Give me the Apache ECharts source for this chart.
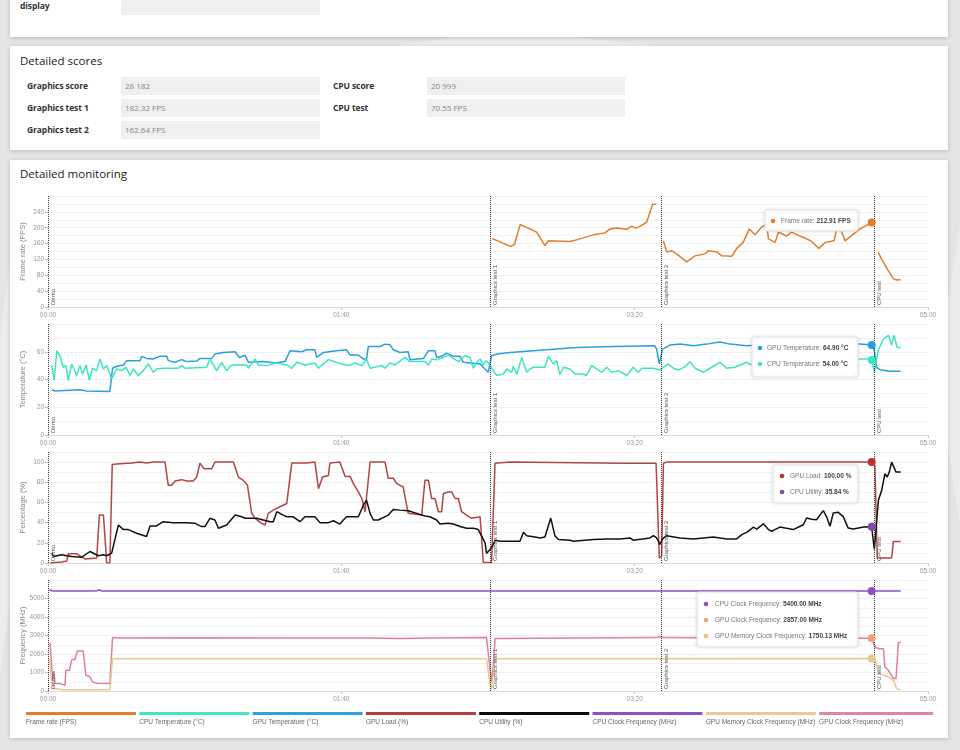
<!DOCTYPE html>
<html>
<head>
<meta charset="utf-8">
<script src="https://cdn.jsdelivr.net/npm/echarts@6/dist/echarts.min.js"></script>
<style>
    body { margin:0; width:960px; height:750px; overflow:hidden; position:relative;
           background:#e4e4e4; font-family:"Open Sans", sans-serif; }
    .poly { position:absolute; background:#ececec; }
    .card { position:absolute; left:10px; width:938px; background:#fff;
            box-shadow:0 1px 4px rgba(0,0,0,.18); }
    .lbl { position:absolute; font-weight:bold; font-size:8.5px; color:#333; letter-spacing:-0.1px; }
    .box { position:absolute; height:18px; background:#efefef; box-sizing:border-box;
           padding-left:4px; font-size:8px; color:#888; line-height:18px; }
    .ttl { position:absolute; left:10px; font-size:11.5px; color:#222; }
    #mon { position:absolute; left:0; top:0; width:938px; height:578px; }
</style>
</head>
<body>
<div class="poly" style="left:300px;top:30px;width:500px;height:30px;clip-path:polygon(0 100%,40% 0,100% 100%);"></div>
<div class="poly" style="left:948px;top:0;width:12px;height:750px;clip-path:polygon(0 40%,100% 30%,100% 70%,0 60%);"></div>
<div class="poly" style="left:0;top:0;width:10px;height:750px;clip-path:polygon(0 45%,100% 35%,100% 80%,0 90%);"></div>

<div class="card" style="top:-10px;height:47px;">
    <div class="lbl" style="left:10px;top:10px;">display</div>
    <div class="box" style="left:111px;top:0;width:199px;height:25px;"></div>
</div>

<div class="card" style="top:46px;height:104px;">
    <div class="ttl" style="top:7px;">Detailed scores</div>
    <div class="lbl" style="left:17px;top:34px;">Graphics score</div>
    <div class="box" style="left:111px;top:31px;width:199px;">28 182</div>
    <div class="lbl" style="left:17px;top:56px;">Graphics test 1</div>
    <div class="box" style="left:111px;top:53px;width:199px;">182.32 FPS</div>
    <div class="lbl" style="left:17px;top:78px;">Graphics test 2</div>
    <div class="box" style="left:111px;top:75px;width:199px;">162.64 FPS</div>
    <div class="lbl" style="left:323px;top:34px;">CPU score</div>
    <div class="box" style="left:417px;top:31px;width:198px;">20 999</div>
    <div class="lbl" style="left:323px;top:56px;">CPU test</div>
    <div class="box" style="left:417px;top:53px;width:198px;">70.55 FPS</div>
</div>

<div class="card" style="top:160px;height:578px;">
    <div class="ttl" style="top:6px;">Detailed monitoring</div>
    <div id="mon"></div>
</div>

<script>
    // test sections (seconds)
    var markerNames = ['Demo', 'Graphics test 1', 'Graphics test 2', 'CPU test'];
    var markerTimes = [0, 150.7, 209, 281.8];

    // hovered moment shown in the tooltips
    var hoverTime = 280.8;

    // [seconds, value]
    var fpsData = [
        [151.5,172],[154,165],[157.5,153],[159,157],[161,208],[163.7,199],[166.6,189],[169.4,155],[170.6,167],
        [178,165],[180.5,170],[185.9,182],[189.9,187],[191.6,197],[193.9,199],[197.3,196],[199,204],[200.3,199],
        [202,204],[204.1,214],[206.1,259],[207.2,259],
        [208.5,'-'],
        [209.8,167],[210.9,139],[212.6,142],[214.3,134],[217.7,114],[220.6,129],[224,134],[225.1,142],[228,139],
        [229.7,129],[233.1,128],[234.8,148],[237,163],[239.1,197],[241,182],[243.3,202],[245,208],[245.6,172],
        [247.9,163],[249,189],[251.8,179],[253.5,189],[256,180],[258.6,172],[260,167],[262.8,148],[265,163],
        [268,167],[269.4,214],[271.7,167],[276.8,197],[280.8,212.91],
        [282,'-'],
        [283,138],[284.2,121],[286.5,91],[288.2,71],[289.3,68],[290.7,69]
    ];

    var gpuTemp = [
        [1.3,32.6],[2.4,31.7],[10.9,32.6],[13.2,31.7],[21.1,31.4],[22,48.1],[23.4,49.5],[25.7,50.5],[26.8,53.6],
        [31.4,53.6],[31.9,56.7],[33.6,55.2],[35.9,54.8],[38,56.7],[40.5,56.7],[41,53.6],[43.3,52.4],[45.6,54.3],
        [47.3,52.9],[50.7,53.3],[51.8,55.2],[55.8,55.2],[56.9,58.3],[59.8,59.5],[63.8,60],[65.2,55.9],[67.2,57.6],
        [68.3,52.4],[73.4,52.9],[77.4,51.9],[80.8,52.9],[82.5,60.7],[86.5,60],[88.2,61.4],[91,61.4],[91.6,55.9],
        [93.9,59.5],[98.4,60.7],[101.8,61.4],[103,57.6],[105.8,57.6],[107.5,54.8],[108.6,54.8],[109.2,63.8],
        [113.2,63.8],[114.9,65.5],[116.6,65],[117.7,61.4],[120,59.5],[122.8,60],[123.4,54.3],[128,55.2],[129.7,60.7],
        [131.9,60.7],[132.5,55.9],[134.2,56.7],[135.9,59],[138.2,56.7],[140.5,56.7],[141.6,52.4],[147.3,51.2],
        [150.1,45.2],[151.2,57.1],[153,58.3],[157.5,59.5],[170,61.4],[180.2,63.1],[192.7,63.8],[206.9,64.3],
        [207.5,61.9],[208.4,51.2],[209.5,61.9],[212,64.8],[215.5,65.5],[220,64.3],[224.5,65.5],[229.1,67.1],
        [232.5,65.5],[238.2,64.3],[244,65],[250,65.5],[258,65],[266,65.5],[276.8,65.5],[280.8,64.9],[281.7,60.7],
        [282.5,48.8],[283.6,47.1],[287,46],[290.7,46]
    ];

    var cpuTemp = [
        [1.3,50],[2.1,39.3],[3,60.7],[4.1,57.1],[5.2,48.8],[6.1,50],[6.9,39.3],[8.1,51.2],[9.8,42.9],[10.9,50],
        [11.8,44],[13,50.5],[14.1,39.3],[15.2,48.1],[16.6,46.4],[17.7,54.8],[18.9,47.6],[20,50],[21.7,40.5],
        [23.4,47.6],[25.1,46.4],[26.6,48.8],[28,42.9],[29.1,47.6],[30.8,42.9],[32.5,46.4],[34.2,51.2],[35.9,45.2],
        [37,47.6],[39.1,48.1],[44.4,48.1],[45.6,50],[46.7,48.1],[54.1,48.8],[55.2,54.8],[57.5,46.4],[59.2,52.4],
        [60.9,46.4],[62.6,50.5],[67.7,50.5],[68.3,48.1],[70.6,54.8],[71.7,50.5],[74.5,50],[78,51.9],[81.4,50.5],
        [83.1,48.1],[84.8,52.4],[87.6,50.5],[91,51.9],[92.2,48.1],[95.6,54.3],[99,51.9],[102.4,50],[104.7,51.9],
        [107,50],[108.6,54.8],[109.8,48.1],[113.8,50],[114.9,48.1],[116.6,51.9],[118.3,50.5],[121.7,55.9],
        [123.4,52.9],[128.5,52.9],[129.7,50.5],[130.8,54.8],[132.5,54.3],[134.8,55.9],[136.5,57.6],[139.9,52.9],
        [142.2,57.1],[143.9,55.9],[145,48.1],[146.1,52.4],[147.3,54.8],[148.4,50.5],[149.5,53.6],[150.7,50],
        [153,42.9],[155.2,44],[156.4,47.6],[158.1,45.2],[158.6,49.5],[159.8,43.6],[161.5,55.9],[163.2,45.2],
        [164.3,47.6],[165.5,48.8],[169.4,48.8],[170.6,56.7],[172.3,51.2],[173.4,53.6],[174.5,43.6],[175.7,48.8],
        [177.9,47.6],[179.7,44],[182.5,44],[183.6,42.9],[185.3,50],[187,47.6],[188.8,45.2],[190.5,48.8],
        [192.2,45.2],[194.4,46.4],[197.3,42.9],[199.5,48.8],[201.2,45.2],[202.4,48.1],[206.4,48.1],[208.6,46.9],
        [211.5,51.2],[213.2,48.1],[214.9,46.9],[217.2,49.3],[218.9,52.9],[220.6,48.1],[223.4,45.2],[225.7,48.1],
        [229.1,52.4],[231.4,48.1],[234.2,48.8],[238.2,52.4],[239.3,51],[242,50.5],[246,52],[250,51],[254,53],
        [258,52],[262,54],[266,53],[270,55],[276.8,54.8],[279.6,54.8],[280.8,54],[281.7,45.2],[283,60.7],
        [284.8,69],[286.5,71.9],[287.6,64.8],[288.4,71.9],[289.5,63.1],[290.7,63.1]
    ];

    var gpuLoad = [
        [0.7,0],[4.7,1],[6.4,2],[6.9,9.1],[9.8,9.1],[10.3,7.2],[12.6,4],[16.6,5],[17.5,47.5],[18.9,47.5],[20,0],
        [21.1,0],[21.9,97.6],[23.4,98],[28.5,99],[31.4,100],[33.6,99],[35.9,100],[39.9,100],[41,77],[42.2,77],
        [43.3,81.3],[45.6,82.6],[47.3,81.3],[49.5,81.3],[50.7,85.2],[51.8,99],[53.2,93.4],[55.8,93.4],[56.9,100],
        [63.2,100],[64.9,85.2],[66.6,81.9],[68,77],[69.4,49.8],[70.6,44.3],[72.8,39.3],[74,37.7],[75.1,49.2],
        [76.8,52.4],[79.1,55.7],[81.4,59],[83.1,99],[88.2,99],[91,100],[92.2,73.7],[93.6,85.2],[95.6,86.8],
        [96.1,99],[99.5,100],[101.3,85.8],[103,85.8],[104.1,78.6],[105.8,70.4],[107,63.9],[108.1,50.8],[108.6,50.8],
        [109.8,100],[114.9,100],[116,84],[117.7,84],[118.9,78.6],[121.1,75.3],[121.7,73.7],[122.8,49.2],[127.4,47.5],
        [128.5,81.9],[129.7,81.9],[130.8,63.9],[131.9,63.9],[133.1,50.8],[134.2,50.8],[134.8,68.8],[136.5,70.4],
        [137.6,70.4],[138.8,63.9],[139.9,63.9],[141,50.8],[142.7,47.5],[144.4,44.3],[147.3,45.8],[147.8,45.8],
        [148.4,0.6],[151.2,0.6],[152.4,98.9],[157.5,100],[196.1,98.9],[207.3,98.9],[208.4,5],[209.2,6.5],
        [209.8,98.9],[210.9,100],[280.8,100],[281.9,96.7],[282.7,5],[287.6,5],[288.2,21.4],[290.7,21.4]
    ];

    var cpuUtil = [
        [1.3,9.8],[1.8,6.5],[4.7,8.2],[6.4,7.2],[8.1,6.5],[11.5,5.8],[14.3,11.4],[17.2,7.2],[18.9,8.2],[20,7.2],
        [21.7,9.8],[22.3,9.8],[24,37.7],[25.7,33.1],[27.4,33.1],[30.2,29.5],[33.6,26.2],[34.8,36.7],[37,36.7],
        [39.3,40.9],[42.7,40],[47.3,40],[50.1,39.3],[52.4,36.1],[53.5,36.1],[55.2,44.3],[56.9,42.6],[58.1,34.4],
        [60.9,37.7],[63.8,47.5],[66,45.8],[67.2,44.3],[71.1,44.3],[73.4,42.6],[75.7,40.9],[76.8,40.9],[78,50.8],
        [80.2,47.5],[81.4,45.8],[83.6,45.8],[85.9,40.9],[87.6,45.8],[91,45.8],[92.7,40],[95.6,40],[97.3,41.9],
        [99.5,38.6],[100.7,42.6],[101.8,45.8],[105.8,45.8],[107.5,57.3],[108.6,62.2],[109.8,49.2],[110.9,42.6],
        [112.6,42.6],[116,47.5],[117.7,53.1],[120,52.4],[122.8,51.8],[125.7,49.2],[128.5,46.5],[130.2,45.8],
        [132.5,42.6],[133.6,38.6],[136.5,39.3],[138.2,38.6],[140.5,36.1],[142.7,34.4],[145,34.4],[146.7,33.1],
        [147.3,33.1],[149,20],[149.5,9.5],[150.7,13.4],[151.8,18.3],[152.4,22.6],[154.1,21.6],[160.9,21.6],
        [162.1,30.4],[163.2,27.1],[166,25.8],[167.7,24.8],[169.4,25.8],[171.4,44.5],[172.8,27.1],[174,23.2],
        [178,22.6],[179.1,21.6],[185.9,23.2],[190.5,23.9],[195,23.9],[198.4,24.8],[199.5,22.6],[205.2,24.8],
        [206.4,27.1],[207.5,24.8],[208.6,18.3],[209.5,23.9],[210.9,27.1],[215.4,24.8],[220,23.9],[226.8,25.8],
        [231.4,23.9],[234.8,23.9],[236.5,28.1],[238.2,30.4],[240.5,35.6],[241.6,33.6],[243.9,38.8],[245.6,33.1],
        [246.7,31.5],[247.8,33.1],[249.5,35.6],[251.3,34.6],[254.1,33.1],[256.4,36.4],[257.5,37.9],[258.6,44.5],
        [260.3,43.4],[262,42.8],[264.3,51.9],[265.4,46],[266.6,36.4],[267.7,49.5],[269.4,50.2],[271.1,46],
        [272.8,34.6],[274.5,33.6],[278,35.6],[280.8,35.84],[281.7,13.4],[283.1,62.2],[284.2,72],[285.3,88.4],
        [286.1,85.2],[286.8,90.1],[287.6,100],[289.1,90.1],[290.7,90.1]
    ];

    var cpuClock = [
        [0.5,5480],[1.5,5400],[15.5,5400],[16.1,5480],[16.8,5420],[17.6,5470],[18.3,5400],[148,5400],
        [148.6,5470],[149.3,5400],[280.8,5400],[290.7,5400]
    ];

    var gpuClock = [
        [0.7,2600],[1.6,580],[2,1080],[2.4,400],[4.1,400],[5.8,314],[6.1,1120],[7.3,1120],[8.1,1700],[9.2,1700],
        [10,2164],[12,2164],[12.9,850],[14.1,800],[15.2,494],[16.6,420],[21.1,410],[22,2887],[24.5,2860],[50,2880],
        [80,2870],[100,2860],[110,2870],[120,2840],[130,2870],[149.5,2887],[150.5,1480],[151.2,494],[151.8,1390],
        [152.4,2833],[180,2870],[207.5,2887],[208.6,2950],[209.8,2887],[240,2860],[280.8,2857],[281.9,2380],
        [283.1,2290],[284.8,2290],[285.3,1300],[286.5,1118],[288.2,670],[289.1,670],[289.9,2600],[290.7,2650]
    ];

    var memClock = [
        [0.5,1750],[1.3,490],[2,130],[5.2,65],[21.1,65],[22,1750],[149.5,1750],[150.5,580],[151.2,65],
        [152.4,1750],[280.8,1750.13],[281.9,1740],[283.1,940],[284.8,850],[286.5,760],[288.2,580],[289.3,130],
        [290.7,65]
    ];

    var legendNames = ['Frame rate (FPS)', 'CPU Temperature (°C)', 'GPU Temperature (°C)', 'GPU Load (%)',
        'CPU Utility (%)', 'CPU Clock Frequency (MHz)', 'GPU Memory Clock Frequency (MHz)', 'GPU Clock Frequency (MHz)'];
    var legendColors = ['#e07e2e', '#3ee8c2', '#2da2e2', '#b73d3d', '#0c0c0c', '#8953c4', '#e8cb8d', '#e083a6'];

    var C = {fps:'#e07e2e', cpuT:'#3ee6c0', gpuT:'#2a9fe0', load:'#b54444', util:'#111111',
             cpuC:'#8a52c3', memC:'#e6c98c', gpuC:'#de7fa2', gpuCDot:'#eba57e'};

    function pad(n) { return (n < 10 ? '0' : '') + n; }
    function mmss(v) { return pad(Math.floor(v / 60)) + ':' + pad(Math.round(v % 60)); }

    var gridTops = [36, 164, 292, 420];
    var grids = gridTops.map(function (t) {
        return {left: 38, width: 880, top: t, height: 111, containLabel: false, outerBoundsMode: 'none'};
    });

    var xAxes = gridTops.map(function (t, i) {
        return {
            type: 'value', gridIndex: i, min: 0, max: 300, interval: 100,
            axisLine: {lineStyle: {color: '#dddddd'}},
            axisTick: {length: 3, lineStyle: {color: '#cccccc'}},
            axisLabel: {fontSize: 6.5, color: '#999', margin: 5, formatter: mmss},
            splitLine: {show: false}
        };
    });

    function yAxis(i, name, max, interval) {
        return {
            type: 'value', gridIndex: i, min: 0, max: max, interval: interval,
            name: name, nameLocation: 'middle', nameGap: 21, nameMoveOverlap: false,
            nameTextStyle: {fontSize: 7.5, color: '#888'},
            axisLine: {show: false},
            axisTick: {show: true, length: 3, lineStyle: {color: '#bbbbbb'}},
            axisLabel: {fontSize: 6.5, color: '#999', margin: 4, showMaxLabel: false, showMinLabel: true,
                        hideOverlap: false, formatter: function (v) { return String(v); }},
            splitLine: {lineStyle: {color: '#efefef'}},
            minorTick: {show: false, splitNumber: 2},
            minorSplitLine: {show: true, lineStyle: {color: '#f3f3f3'}}
        };
    }
    var yAxes = [
        yAxis(0, 'Frame rate (FPS)', 280, 40),
        yAxis(1, 'Temperature (°C)', 80, 20),
        yAxis(2, 'Percentage (%)', 110, 20),
        yAxis(3, 'Frequency (MHz)', 6000, 1000)
    ];

    var markers = {
        symbol: ['none', 'none'], silent: true, animation: false,
        lineStyle: {type: 'dotted', color: '#333', width: 1},
        label: {show: true, position: 'insideStartBottom', formatter: '{b}', fontSize: 6, color: '#555', distance: 2},
        data: markerNames.map(function (n, i) { return {name: n, xAxis: markerTimes[i]}; })
    };

    function line(name, data, color, gi, hoverVal, dotColor, withMarkers) {
        var s = {
            name: name, type: 'line', xAxisIndex: gi, yAxisIndex: gi, data: data,
            showSymbol: false, symbol: 'none', connectNulls: false,
            lineStyle: {color: color, width: 1.5}, itemStyle: {color: color},
            markPoint: {
                symbol: 'circle', symbolSize: 8, silent: true, animation: false,
                itemStyle: {color: dotColor || color}, label: {show: false},
                data: [{coord: [hoverTime, hoverVal]}]
            }
        };
        if (withMarkers) s.markLine = markers;
        return s;
    }

    var series = [
        line('Frame rate', fpsData, C.fps, 0, 212.91, null, true),
        line('GPU Temperature', gpuTemp, C.gpuT, 1, 64.90, null, true),
        line('CPU Temperature', cpuTemp, C.cpuT, 1, 54.00, null, false),
        line('GPU Load', gpuLoad, C.load, 2, 100, '#c0322e', true),
        line('CPU Utility', cpuUtil, C.util, 2, 35.84, '#7a4bb0', false),
        line('CPU Clock Frequency', cpuClock, C.cpuC, 3, 5400, null, true),
        line('GPU Clock Frequency', gpuClock, C.gpuC, 3, 2857, C.gpuCDot, false),
        line('GPU Memory Clock Frequency', memClock, C.memC, 3, 1750.13, null, false)
    ];

    // static tooltip boxes
    function tip(x, y, w, h, dotX, textX, rows) {
        var kids = [{
            type: 'rect', z: 100, shape: {x: x, y: y, width: w, height: h, r: 2},
            style: {fill: '#fff', stroke: '#e3e3e3', lineWidth: 1, shadowBlur: 4, shadowColor: 'rgba(0,0,0,0.12)'}
        }];
        rows.forEach(function (r) {
            kids.push({type: 'circle', z: 101, shape: {cx: dotX, cy: r[0], r: 2.3}, style: {fill: r[1]}});
            kids.push({
                type: 'text', z: 101, x: textX, y: r[0],
                style: {
                    text: '{a|' + r[2] + ': }{b|' + r[3] + '}', verticalAlign: 'middle',
                    rich: {a: {fontSize: 6.5, fill: '#777'}, b: {fontSize: 6.5, fill: '#444', fontWeight: 'bold'}}
                }
            });
        });
        return {type: 'group', z: 100, children: kids};
    }

    var graphics = [
        tip(755, 50, 93, 21, 763, 771, [[61, C.fps, 'Frame rate', '212.91 FPS']]),
        tip(742, 177, 106, 40, 750, 757, [[188, C.gpuT, 'GPU Temperature', '64.90 °C'],
                                          [204, C.cpuT, 'CPU Temperature', '54.00 °C']]),
        tip(763, 305, 85, 38, 772, 780, [[316, '#c0322e', 'GPU Load', '100.00 %'],
                                         [332, '#7a4bb0', 'CPU Utility', '35.84 %']]),
        tip(687, 432, 161, 55, 696, 705, [[444, C.cpuC, 'CPU Clock Frequency', '5400.00 MHz'],
                                          [460, C.gpuCDot, 'GPU Clock Frequency', '2857.00 MHz'],
                                          [476, '#e8c470', 'GPU Memory Clock Frequency', '1750.13 MHz']])
    ];

    // legend bars with labels underneath
    legendNames.forEach(function (n, i) {
        var x = 16 + i * 113.3;
        graphics.push({type: 'rect', shape: {x: x, y: 552, width: i === 7 ? 114 : 110, height: 3},
                       style: {fill: legendColors[i]}});
        graphics.push({type: 'text', x: x, y: 562,
                       style: {text: n, fontSize: 6.5, fill: '#666', verticalAlign: 'middle'}});
    });

    var chart = echarts.init(document.getElementById('mon'));
    chart.setOption({
        animation: false,
        grid: grids,
        xAxis: xAxes,
        yAxis: yAxes,
        series: series,
        graphic: graphics
    });
</script>
</body>
</html>
